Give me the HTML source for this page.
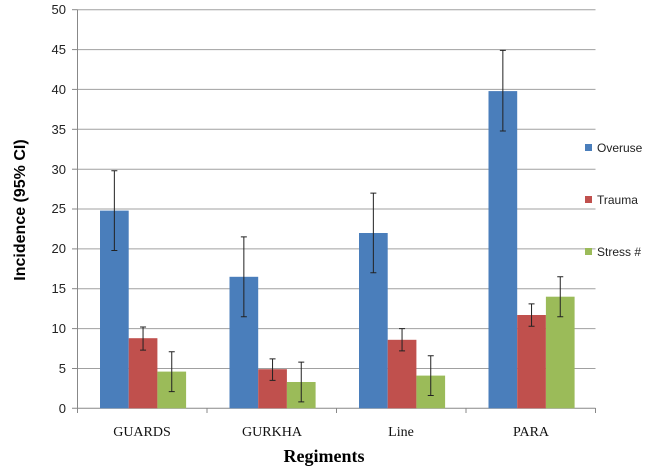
<!DOCTYPE html>
<html><head><style>body{margin:0;background:#fff}svg{display:block}</style></head><body>
<svg width="648" height="472" xmlns="http://www.w3.org/2000/svg">
<rect width="648" height="472" fill="#fff"/>
<g stroke="#a0a0a0" stroke-width="1">
<line x1="77.5" x2="595.5" y1="9.7" y2="9.7"/><line x1="77.5" x2="595.5" y1="49.6" y2="49.6"/><line x1="77.5" x2="595.5" y1="89.4" y2="89.4"/><line x1="77.5" x2="595.5" y1="129.3" y2="129.3"/><line x1="77.5" x2="595.5" y1="169.2" y2="169.2"/><line x1="77.5" x2="595.5" y1="209" y2="209"/><line x1="77.5" x2="595.5" y1="248.9" y2="248.9"/><line x1="77.5" x2="595.5" y1="288.7" y2="288.7"/><line x1="77.5" x2="595.5" y1="328.6" y2="328.6"/><line x1="77.5" x2="595.5" y1="368.5" y2="368.5"/>
</g>
<g stroke="#888" stroke-width="1">
<line x1="77.5" x2="77.5" y1="9.7" y2="413"/><line x1="72" x2="595.5" y1="408.3" y2="408.3"/>
<line x1="72" x2="77.5" y1="9.7" y2="9.7"/><line x1="72" x2="77.5" y1="49.6" y2="49.6"/><line x1="72" x2="77.5" y1="89.4" y2="89.4"/><line x1="72" x2="77.5" y1="129.3" y2="129.3"/><line x1="72" x2="77.5" y1="169.2" y2="169.2"/><line x1="72" x2="77.5" y1="209" y2="209"/><line x1="72" x2="77.5" y1="248.9" y2="248.9"/><line x1="72" x2="77.5" y1="288.7" y2="288.7"/><line x1="72" x2="77.5" y1="328.6" y2="328.6"/><line x1="72" x2="77.5" y1="368.5" y2="368.5"/>
<line x1="207" x2="207" y1="408" y2="413"/><line x1="336.5" x2="336.5" y1="408" y2="413"/><line x1="466" x2="466" y1="408" y2="413"/><line x1="595.5" x2="595.5" y1="408" y2="413"/>
</g>
<g font-family="Liberation Sans, sans-serif" font-size="13" fill="#222" text-anchor="end">
<text x="66" y="14">50</text><text x="66" y="54">45</text><text x="66" y="94">40</text><text x="66" y="134">35</text><text x="66" y="174">30</text><text x="66" y="213">25</text><text x="66" y="253">20</text><text x="66" y="293">15</text><text x="66" y="333">10</text><text x="66" y="373">5</text><text x="66" y="413">0</text>
</g>
<g fill="#4a7ebb">
<rect x="100" y="210.6" width="28.7" height="197.7"/>
<rect x="229.5" y="276.8" width="28.7" height="131.5"/>
<rect x="359" y="233.0" width="28.7" height="175.3"/>
<rect x="488.5" y="91.1" width="28.7" height="317.2"/>
</g>
<g fill="#c0504d">
<rect x="128.7" y="338.2" width="28.7" height="70.1"/>
<rect x="258.2" y="369.2" width="28.7" height="39.1"/>
<rect x="387.7" y="339.8" width="28.7" height="68.5"/>
<rect x="517.2" y="315.0" width="28.7" height="93.3"/>
</g>
<g fill="#9bbb59">
<rect x="157.4" y="371.6" width="28.7" height="36.7"/>
<rect x="286.9" y="382.0" width="28.7" height="26.3"/>
<rect x="416.4" y="375.6" width="28.7" height="32.7"/>
<rect x="545.9" y="296.7" width="28.7" height="111.6"/>
</g>
<g stroke="#222" stroke-width="1" fill="none">
<path d="M114.35 250.5V170.8M111.35 250.5h6M111.35 170.8h6"/>
<path d="M143.05 350.1V327M140.05 350.1h6M140.05 327h6"/>
<path d="M171.75 391.6V351.7M168.75 391.6h6M168.75 351.7h6"/>
<path d="M243.85 316.7V236.9M240.85 316.7h6M240.85 236.9h6"/>
<path d="M272.55 380.4V358.9M269.55 380.4h6M269.55 358.9h6"/>
<path d="M301.25 401.9V362.1M298.25 401.9h6M298.25 362.1h6"/>
<path d="M373.35 272.8V193.1M370.35 272.8h6M370.35 193.1h6"/>
<path d="M402.05 350.9V328.6M399.05 350.9h6M399.05 328.6h6"/>
<path d="M430.75 395.5V355.7M427.75 395.5h6M427.75 355.7h6"/>
<path d="M502.85 131V50.4M499.85 131h6M499.85 50.4h6"/>
<path d="M531.55 326.2V303.9M528.55 326.2h6M528.55 303.9h6"/>
<path d="M560.25 316.7V276.8M557.25 316.7h6M557.25 276.8h6"/>
</g>
<g font-family="Liberation Serif, serif" font-size="14" fill="#111" text-anchor="middle">
<text x="142" y="436">GUARDS</text><text x="272" y="436">GURKHA</text><text x="401" y="436">Line</text><text x="531" y="436">PARA</text>
</g>
<text x="324" y="462" font-family="Liberation Serif, serif" font-size="18" font-weight="bold" text-anchor="middle">Regiments</text>
<text transform="translate(25,210) rotate(-90)" font-family="Liberation Sans, sans-serif" font-size="16" font-weight="bold" text-anchor="middle">Incidence  (95% CI)</text>
<g font-family="Liberation Sans, sans-serif" font-size="12" fill="#222">
<rect x="585" y="144" width="7" height="7" fill="#4a7ebb"/><text x="597" y="152">Overuse</text>
<rect x="585" y="196" width="7" height="7" fill="#c0504d"/><text x="597" y="204">Trauma</text>
<rect x="585" y="248" width="7" height="7" fill="#9bbb59"/><text x="597" y="256">Stress #</text>
</g>
</svg>
</body></html>
